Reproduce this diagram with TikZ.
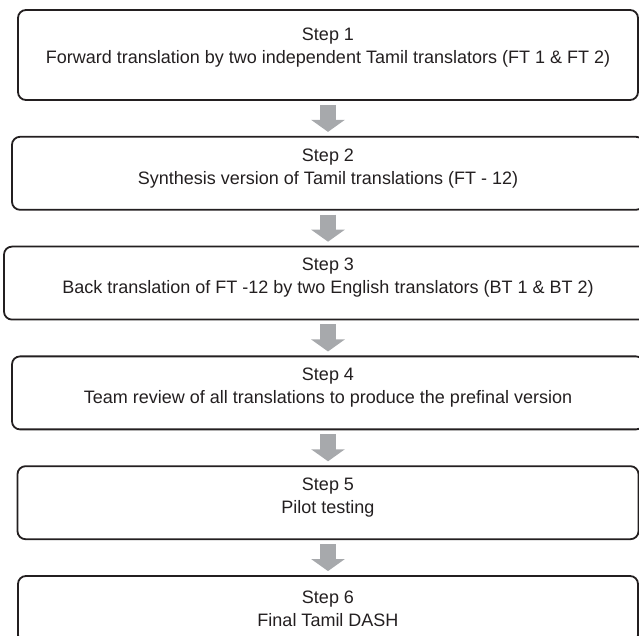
\documentclass[tikz,border=0pt]{standalone}
\usepackage{fontspec}
\setmainfont{Liberation Sans}
\usepackage{xcolor}
\definecolor{outlineBlack}{HTML}{231F20}
\definecolor{arrowGray}{HTML}{A7A9AC}
\definecolor{darkText}{HTML}{231F20}
\usepackage{tikz}
\usetikzlibrary{
    arrows.meta,
    positioning
}
\tikzset{
    % Base style for all step boxes
    step base/.style={
        font=\fontsize{18}{23}\selectfont,
        align=center,
        text=darkText,
        minimum height=73pt,
        text depth=14pt,
    },
    % Step boxes - plain rounded rectangle
    stepbox/.style={
        step base,
        rectangle,
        rounded corners=8pt,
        draw=outlineBlack,
        line width=1.8pt,
    },
    % Thick gray block arrow between steps
    arrow/.style={
        -{Triangle[length=12pt, width=33pt]},
        line width=16pt,
        draw=arrowGray,
        shorten >=4pt,
        shorten <=4pt,
    },
}

\begin{document}
\begin{tikzpicture}[x=1pt, y=1pt, node distance=35pt]
    \clip (0,0) rectangle (639,636);
    \node (step1) [stepbox, minimum width=620pt, minimum height=90pt, text depth=18pt] at (328,581) {Step 1\\Forward translation by two independent Tamil translators (FT 1 \& FT 2)};
    \node (step2) [stepbox, minimum width=632pt, below=of step1] {Step 2\\Synthesis version of Tamil translations (FT - 12)};
    \node (step3) [stepbox, minimum width=648pt, below=of step2] {Step 3\\Back translation of FT -12 by two English translators (BT 1 \& BT 2)};
    \node (step4) [stepbox, minimum width=632pt, below=of step3] {Step 4\\Team review of all translations to produce the prefinal version};
    \node (step5) [stepbox, minimum width=621pt, below=of step4] {Step 5\\Pilot testing};
    \node (step6) [stepbox, minimum width=620pt, minimum height=67pt, text depth=2pt, below=of step5] {Step 6\\Final Tamil DASH};

    \draw [arrow] (step1) -- (step2);
    \draw [arrow] (step2) -- (step3);
    \draw [arrow] (step3) -- (step4);
    \draw [arrow] (step4) -- (step5);
    \draw [arrow] (step5) -- (step6);
\end{tikzpicture}
\end{document}
